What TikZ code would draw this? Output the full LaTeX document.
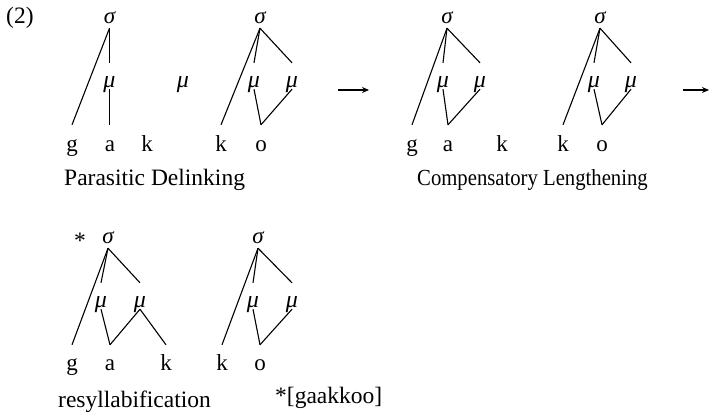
\documentclass[tikz,border=0pt]{standalone}
\usepackage{fontspec}
\setmainfont{Liberation Serif}
\usetikzlibrary{arrows.meta}
\tikzset{
  txt/.style={font=\fontsize{23}{27}\selectfont, inner sep=0pt},
  seg/.style={txt, anchor=base, text height=24pt, text depth=0pt, inner ysep=2pt, inner xsep=0pt},
  sig/.style={font=\fontsize{23}{27}\selectfont\itshape, anchor=base, text height=11pt, text depth=3pt, inner ysep=2pt, inner xsep=0pt},
  mora/.style={font=\fontsize{24}{28}\selectfont\itshape, anchor=base, text height=22pt, text depth=0pt, inner ysep=2pt, inner xsep=0pt},
  captxt/.style={font=\fontsize{23.5}{28}\selectfont, inner sep=0pt, anchor=base west},
  ln/.style={line width=1.1pt},
  arr/.style={line width=1.1pt, -{Stealth[length=7pt,width=6pt]}}
}
\begin{document}
\begin{tikzpicture}[x=1pt,y=-1pt]
\useasboundingbox (0,0) rectangle (709,418);
\node[captxt] (ex) at (6,23) {(2)};
% Panel 1
\node[sig] (s1) at (109.5,23) {σ};
\node[mora] (m1) at (109.5,87) {μ};
\node[mora] (mf) at (183,87) {μ};
\node[seg] (g1) at (72,151) {g};
\node[seg] (a1) at (110,151) {a};
\node[seg] (k1) at (147,151) {k};
\draw[ln] (s1.south) -- (g1.north);
\draw[ln] (s1.south) -- (m1.north);
\draw[ln] (m1.south) -- (m1.south |- a1.north);
\node[sig] (s2) at (260,23) {σ};
\node[mora] (m2a) at (254,87) {μ};
\node[mora] (m2b) at (292,87) {μ};
\node[seg] (k2) at (221,151) {k};
\node[seg] (o2) at (261,151) {o};
\draw[ln] (s2.south) -- (k2.north);
\draw[ln] (s2.south) -- (m2a.north);
\draw[ln] (s2.south) -- (m2b.north);
\draw[ln] (m2a.south) -- (o2.north);
\draw[ln] (m2b.south) -- (o2.north);
\node[captxt] (c1) at (64,185) {Parasitic Delinking};
\coordinate (ar1a) at (338,90);
\coordinate (ar1b) at (369,90);
\draw[arr] (ar1a) -- (ar1b);
% Panel 2
\node[sig] (s3) at (447,23) {σ};
\node[mora] (m3a) at (443,87) {μ};
\node[mora] (m3b) at (480,87) {μ};
\node[seg] (g3) at (412,151) {g};
\node[seg] (a3) at (448,151) {a};
\node[seg] (k3) at (502,151) {k};
\draw[ln] (s3.south) -- (g3.north);
\draw[ln] (s3.south) -- (m3a.north);
\draw[ln] (s3.south) -- (m3b.north);
\draw[ln] (m3a.south) -- (a3.north);
\draw[ln] (m3b.south) -- (a3.north);
\node[sig] (s4) at (600,23) {σ};
\node[mora] (m4a) at (594,87) {μ};
\node[mora] (m4b) at (631,87) {μ};
\node[seg] (k4) at (563,151) {k};
\node[seg] (o4) at (602,151) {o};
\draw[ln] (s4.south) -- (k4.north);
\draw[ln] (s4.south) -- (m4a.north);
\draw[ln] (s4.south) -- (m4b.north);
\draw[ln] (m4a.south) -- (o4.north);
\draw[ln] (m4b.south) -- (o4.north);
\node[captxt, font=\fontsize{23}{27}\selectfont] (c2) at (417,185) {\scalebox{0.9}[1]{Compensatory Lengthening}};
\coordinate (ar2a) at (683,90);
\coordinate (ar2b) at (709,90);
\draw[arr] (ar2a) -- (ar2b);
% Panel 3
\node[captxt, anchor=base] (star) at (80,248) {*};
\node[sig] (s5) at (108,243) {σ};
\node[mora] (m5a) at (101,307) {μ};
\node[mora] (m5b) at (140,307) {μ};
\node[seg, text height=23pt] (g5) at (72,370) {g};
\node[seg, text height=23pt] (a5) at (110,370) {a};
\node[seg, text height=23pt] (k5) at (166,370) {k};
\draw[ln] (s5.south) -- (g5.north);
\draw[ln] (s5.south) -- (m5a.north);
\draw[ln] (s5.south) -- (m5b.north);
\draw[ln] (m5a.south) -- (a5.north);
\draw[ln] (m5b.south) -- (a5.north);
\draw[ln] (m5b.south) -- (k5.north);
\node[sig] (s6) at (258,243) {σ};
\node[mora] (m6a) at (253,307) {μ};
\node[mora] (m6b) at (292,307) {μ};
\node[seg, text height=23pt] (k6) at (222,370) {k};
\node[seg, text height=23pt] (o6) at (260,370) {o};
\draw[ln] (s6.south) -- (k6.north);
\draw[ln] (s6.south) -- (m6a.north);
\draw[ln] (s6.south) -- (m6b.north);
\draw[ln] (m6a.south) -- (o6.north);
\draw[ln] (m6b.south) -- (o6.north);
\node[captxt] (c3) at (58,407) {resyllabification};
\node[captxt] (c4) at (275,403) {*[gaakkoo]};
\end{tikzpicture}
\end{document}
